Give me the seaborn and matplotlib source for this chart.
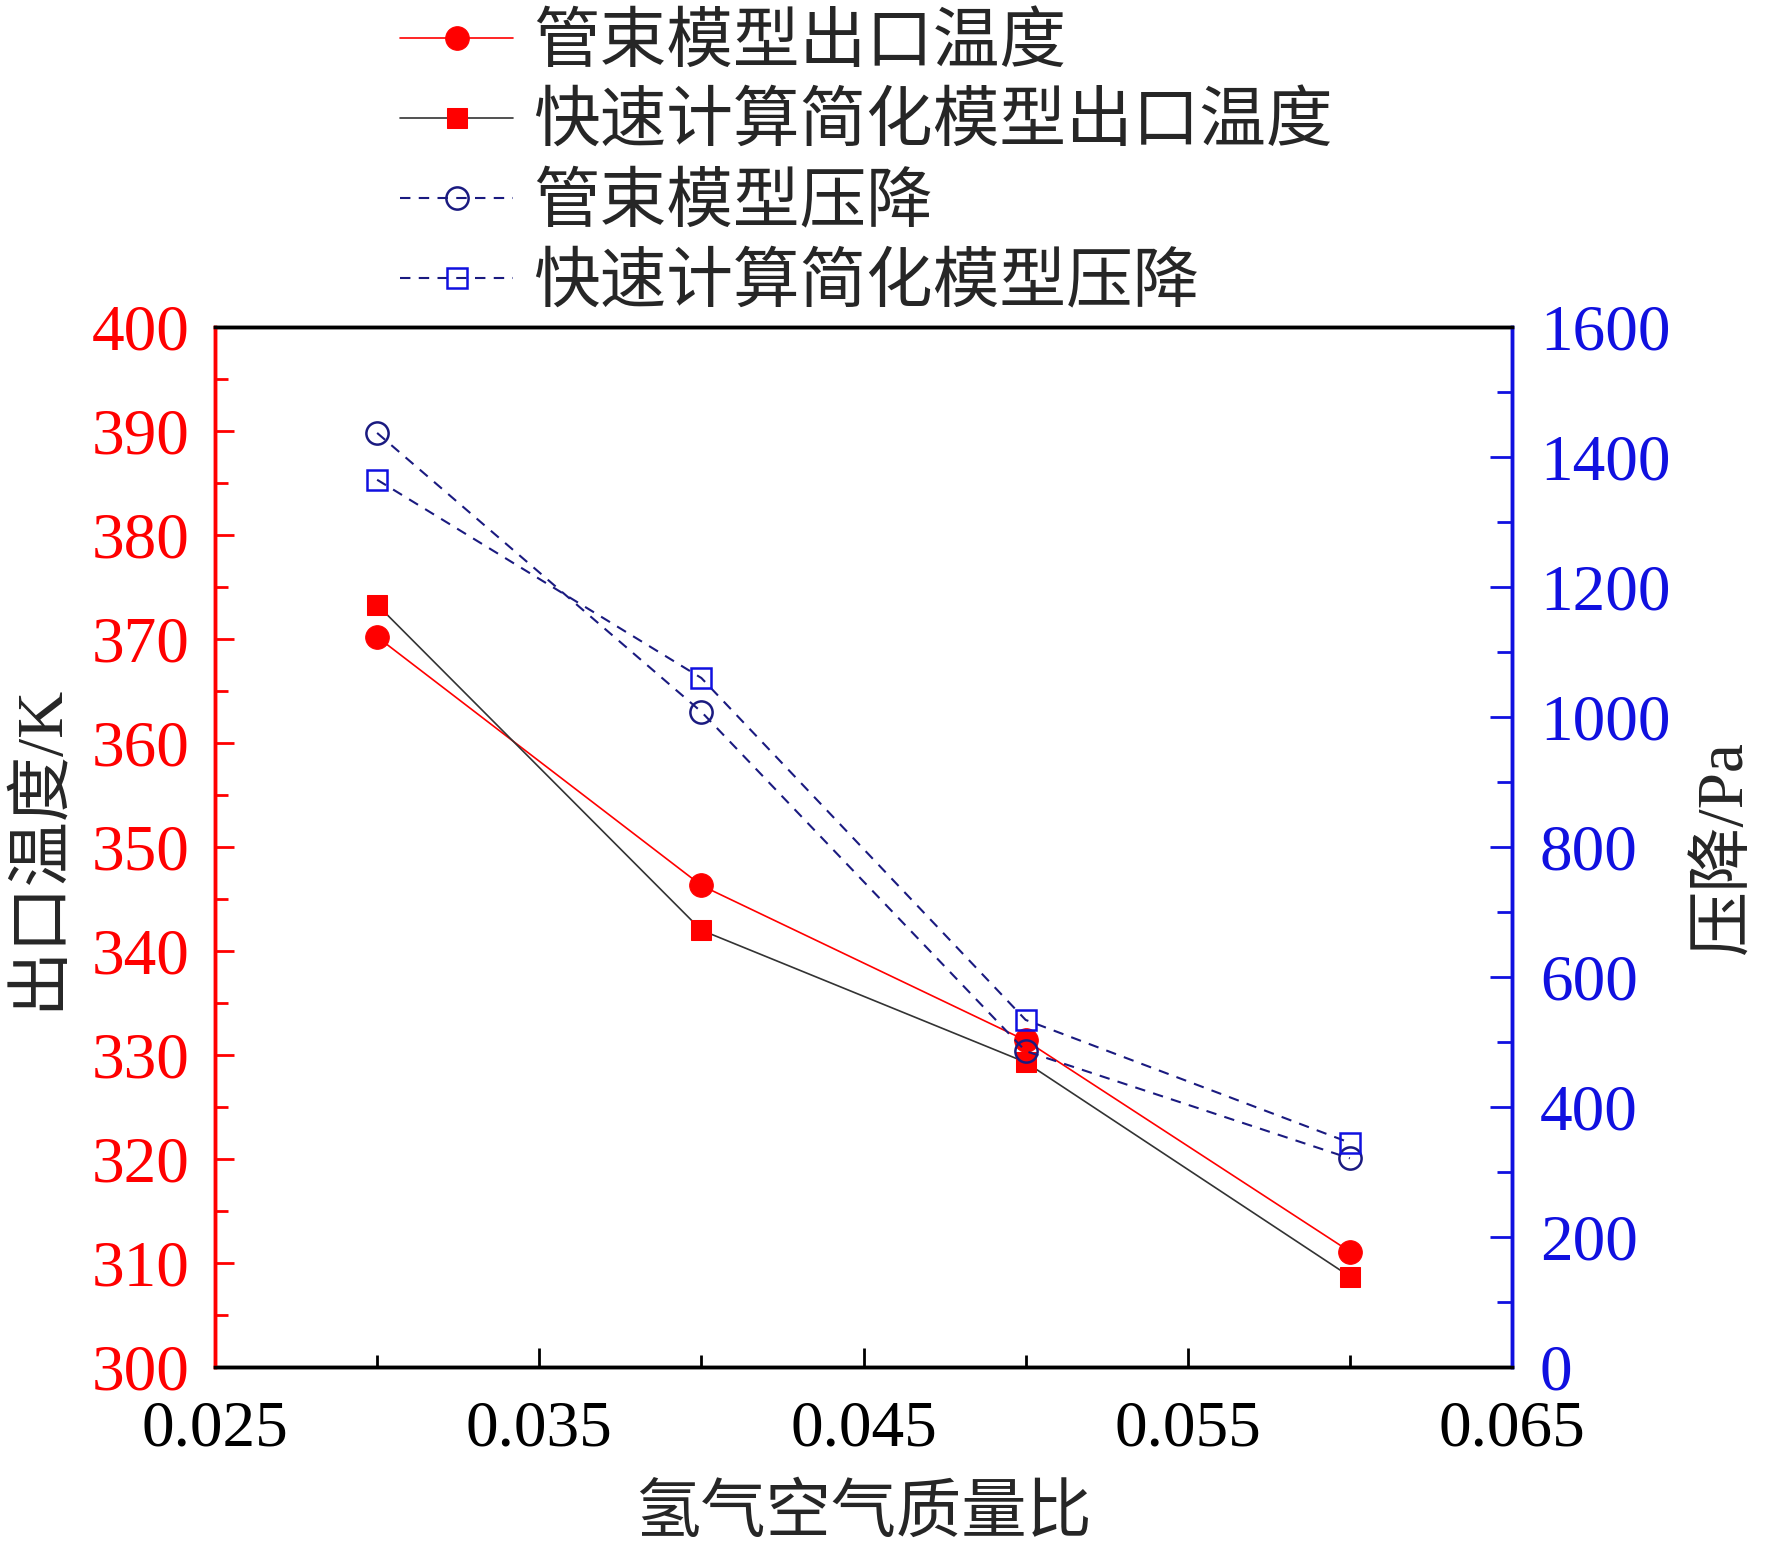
import matplotlib
matplotlib.use("Agg")
import matplotlib.pyplot as plt
from matplotlib.ticker import MultipleLocator
import pandas as pd
import seaborn as sns

# data
ratio = [0.03, 0.04, 0.05, 0.06]
temp_tube = [370.2, 346.3, 331.4, 311.1]
temp_fast = [373.3, 342.0, 329.3, 308.7]
dp_tube = [1437, 1008, 486, 321]
dp_fast = [1365, 1060, 534, 345]

labels = ["管束模型出口温度", "快速计算简化模型出口温度", "管束模型压降", "快速计算简化模型压降"]
x_label = "氢气空气质量比"
y_label = "出口温度/K"
y2_label = "压降/Pa"

df = pd.DataFrame({
    "ratio": ratio,
    "temp_tube": temp_tube,
    "temp_fast": temp_fast,
    "dp_tube": dp_tube,
    "dp_fast": dp_fast,
})

sns.set_style("white")
plt.rcParams["font.family"] = ["Liberation Serif", "Noto Sans CJK SC", "DejaVu Sans"]

RED = "#ff0000"
BLUE = "#1010e0"
NAVY = "#1a1a80"
FS = 47

fig = plt.figure(figsize=(17.72, 15.5), dpi=100)
ax = fig.add_axes([215 / 1772, 1 - 1367 / 1550, (1512 - 215) / 1772, (1367 - 327) / 1550])
ax2 = ax.twinx()

sns.lineplot(data=df, x="ratio", y="temp_tube", ax=ax, color=RED, lw=1.2,
             marker="o", markersize=17, markerfacecolor=RED, markeredgecolor=RED,
             label=labels[0], legend=False)
sns.lineplot(data=df, x="ratio", y="temp_fast", ax=ax, color="#333333", lw=1.2,
             marker="s", markersize=15, markerfacecolor=RED, markeredgecolor=RED,
             label=labels[1], legend=False)
sns.lineplot(data=df, x="ratio", y="dp_tube", ax=ax2, color=NAVY, lw=1.5,
             linestyle=(0, (5, 4)), marker="o", markersize=16,
             markerfacecolor="none", markeredgecolor=NAVY, markeredgewidth=1.8,
             label=labels[2], legend=False)
sns.lineplot(data=df, x="ratio", y="dp_fast", ax=ax2, color=NAVY, lw=1.5,
             linestyle=(0, (5, 4)), marker="s", markersize=15,
             markerfacecolor="none", markeredgecolor=BLUE, markeredgewidth=1.8,
             label=labels[3], legend=False)

ax.set_xlim(0.025, 0.065)
ax.set_ylim(300, 400)
ax2.set_ylim(0, 1600)
ax.xaxis.set_minor_locator(MultipleLocator(0.005))
ax.yaxis.set_major_locator(MultipleLocator(10))
ax.yaxis.set_minor_locator(MultipleLocator(5))
ax2.yaxis.set_major_locator(MultipleLocator(200))
ax2.yaxis.set_minor_locator(MultipleLocator(100))
ax.set_xticks([0.025, 0.035, 0.045, 0.055, 0.065])
ax.set_xticklabels(["0.025", "0.035", "0.045", "0.055", "0.065"])

for a in (ax, ax2):
    for s in a.spines.values():
        s.set_linewidth(2.5)
        s.set_color("black")
    a.spines["left"].set_color(RED)
    a.spines["right"].set_color(BLUE)

ax.tick_params(axis="x", which="both", direction="in", top=False, bottom=True,
               labelsize=FS, pad=24, width=2, colors="black")
ax.tick_params(axis="x", which="major", length=14)
ax.tick_params(axis="x", which="minor", length=9)
ax.tick_params(axis="y", which="both", direction="in", left=True, right=False,
               labelsize=FS, pad=18, width=2, color=RED, labelcolor=RED)
ax.tick_params(axis="y", which="major", length=14)
ax.tick_params(axis="y", which="minor", length=9)
ax2.tick_params(axis="y", which="both", direction="in", right=True, left=False,
                labelsize=FS, pad=20, width=2, color=BLUE, labelcolor=BLUE)
ax2.tick_params(axis="y", which="major", length=16)
ax2.tick_params(axis="y", which="minor", length=11)

ax.set_xlabel(x_label, fontsize=FS, labelpad=18)
ax.set_ylabel(y_label, fontsize=FS, labelpad=16)
ax2.set_ylabel(y2_label, fontsize=FS, labelpad=18, rotation=90)

handles = ax.get_lines()[:2] + ax2.get_lines()[:2]
fig.legend(handles, labels, loc="upper left", bbox_to_anchor=(400 / 1772, 1 - 14 / 1550),
           frameon=False, fontsize=48, handlelength=1.7, handletextpad=0.3,
           labelspacing=0.27, borderpad=0.0, borderaxespad=0.0)

fig.savefig("out.png", dpi=100)
plt.close(fig)
